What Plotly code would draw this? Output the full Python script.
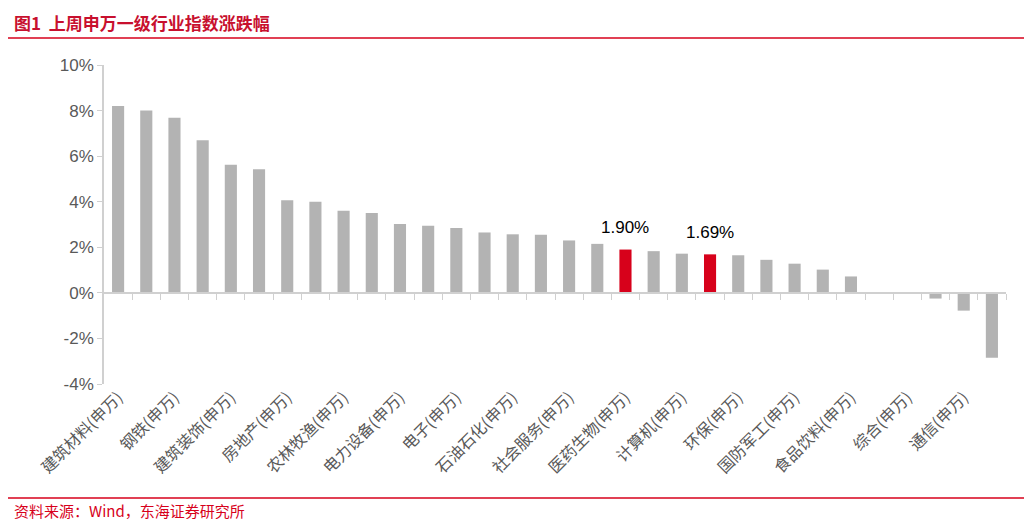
import plotly.graph_objects as go

# 申万一级行业上周涨跌幅（%）
shown = ["建筑材料", "钢铁", "建筑装饰", "房地产", "农林牧渔", "电力设备", "电子", "石油石化",
         "社会服务", "医药生物", "计算机", "环保", "国防军工", "食品饮料", "综合", "通信"]
changes = [8.2, 8.0, 7.68, 6.7, 5.62, 5.42, 4.06, 4.0, 3.6, 3.5, 3.02, 2.95, 2.85, 2.65, 2.57, 2.55,
           2.3, 2.15, 1.90, 1.83, 1.72, 1.69, 1.65, 1.45, 1.28, 1.02, 0.72, 0.03, 0.0, -0.25, -0.78, -2.85]
highlight_idx = [18, 21]
y_ticks = [-4, -2, 0, 2, 4, 6, 8, 10]

idx = list(range(len(changes)))
colors = ["#d7011b" if i in highlight_idx else "#b3b3b3" for i in idx]

fig = go.Figure()
fig.add_trace(go.Bar(x=idx, y=changes, marker_color=colors, marker_line_width=0,
                     width=0.43, showlegend=False))
fig.add_trace(go.Scatter(x=idx, y=[0] * len(idx), xaxis="x2", mode="none",
                         showlegend=False, hoverinfo="skip"))
for i in highlight_idx:
    fig.add_annotation(x=i, y=changes[i], text=f"{changes[i]:.2f}%", showarrow=False,
                       yshift=22, font=dict(size=17, color="#000", family="Arial"))

grey = "#595959"
fig.update_layout(
    width=1032, height=519, plot_bgcolor="white", paper_bgcolor="white",
    margin=dict(l=96, r=34, t=57, b=143),
    font=dict(family="Noto Sans CJK SC, Arial", color=grey, size=15),
    xaxis=dict(range=[-0.5, 31.5], tickvals=idx[::2], automargin=False,
               ticktext=[s + "(申万)" for s in shown], tickangle=-45,
               showline=False, showgrid=False, ticks="", zeroline=False,
               tickfont=dict(size=16, color=grey)),
    xaxis2=dict(range=[-0.5, 31.5], overlaying="x", anchor="free", position=4 / 14,
                showline=True, linecolor="#d0d0d0", linewidth=1.5, showticklabels=False,
                tickvals=[i + 0.5 for i in idx], ticks="outside", ticklen=6,
                tickcolor="#d0d0d0", showgrid=False, zeroline=False, automargin=False),
    yaxis=dict(range=[-4, 10], tickvals=y_ticks, ticktext=[f"{v}%" for v in y_ticks],
               showgrid=False, zeroline=False, automargin=False,
               showline=True, linecolor="#d0d0d0", linewidth=1.5, ticks="outside",
               ticklen=5, tickcolor="#d0d0d0", tickfont=dict(size=17, family="Arial", color=grey)),
)
fig.add_annotation(xref="paper", yref="paper", x=-92 / 902, y=1 + 42 / 319, xanchor="left",
                   yanchor="middle", showarrow=False,
                   text="<b>图1  上周申万一级行业指数涨跌幅</b>",
                   font=dict(size=17, color="#c8102e"))
fig.add_shape(type="line", xref="paper", yref="paper", x0=-96 / 902, x1=1 + 30 / 902,
              y0=1 + 27 / 319, y1=1 + 27 / 319, line=dict(color="#d7011b", width=1.5))
fig.add_shape(type="line", xref="paper", yref="paper", x0=-96 / 902, x1=1 + 30 / 902,
              y0=-114 / 319, y1=-114 / 319, line=dict(color="#d7011b", width=1.5))
fig.add_annotation(xref="paper", yref="paper", x=-92 / 902, y=-126 / 319, xanchor="left",
                   yanchor="middle", showarrow=False, text="资料来源：Wind，东海证券研究所",
                   font=dict(size=15, color="#d7011b"))

fig.write_html("out.html")
